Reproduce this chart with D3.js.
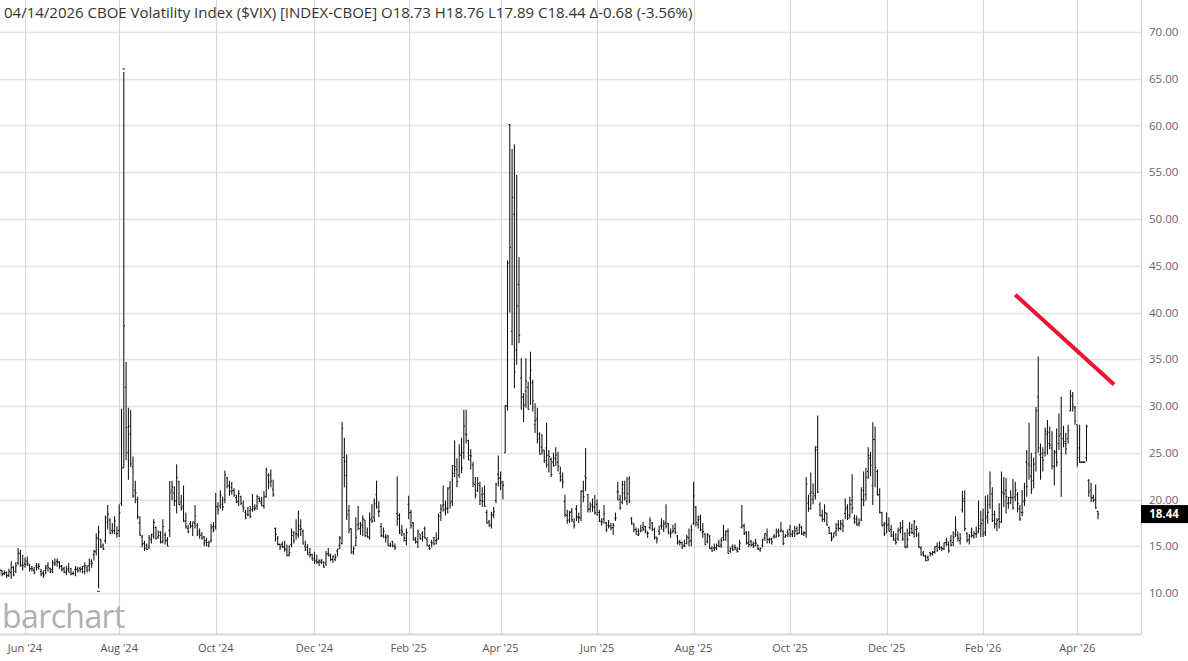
<!DOCTYPE html>
<html><head><meta charset="utf-8">
<script src="https://cdn.jsdelivr.net/npm/d3@7"></script>
<style>body{margin:0;background:#fff;overflow:hidden}svg{display:block}</style>
</head><body>
<svg id="chart" width="1188" height="661"></svg>
<script>
// ---------------- DATA ----------------
const title = "04/14/2026 CBOE Volatility Index ($VIX) [INDEX-CBOE] O18.73 H18.76 L17.89 C18.44 \u0394-0.68 (-3.56%)";
const firstDay = "2024-05-16";
const lastDay = "2026-04-14";
const holidays = ["2024-05-27","2024-06-19","2024-07-04","2024-09-02","2024-11-28","2024-12-25",
  "2025-01-01","2025-01-09","2025-01-20","2025-02-17","2025-04-18","2025-05-26","2025-06-19","2025-07-04",
  "2025-09-01","2025-11-27","2025-12-25","2026-01-01","2026-01-19","2026-02-16"];
const monthTicks = ["2024-06-03","2024-08-01","2024-10-01","2024-12-02","2025-02-03","2025-04-01",
  "2025-06-02","2025-08-01","2025-10-01","2025-12-01","2026-02-02","2026-04-01"];
const monthLabels = ["Jun '24","Aug '24","Oct '24","Dec '24","Feb '25","Apr '25","Jun '25","Aug '25","Oct '25","Dec '25","Feb '26","Apr '26"];
const priceTicks = [10,15,20,25,30,35,40,45,50,55,60,65,70];
const lastPrice = 18.44;
const trendDates = ["2026-02-23","2026-04-23"];
const trendValues = [41.9, 32.3];

const opens = [
12.4,12.4,12.1,12.2,11.9,12.2,12.7,12.3,13.2,14.2,13.0,
13.1,13.4,13.0,12.6,12.4,12.9,12.9,12.3,12.1,12.4,12.9,12.6,12.5,13.1,13.4,13.3,12.9,12.6,12.2,
12.6,12.6,12.1,12.5,12.6,12.6,12.6,12.3,12.7,12.9,13.4,14.1,14.4,15.8,15.7,15.1,15.6,17.6,17.8,16.7,16.7,16.3,
16.7,19.6,23.4,32.0,25.0,27.0,23.5,21.0,20.0,17.5,16.0,15.3,15.1,14.9,15.7,16.1,17.0,16.0,16.5,15.5,16.2,15.6,
16.7,21.0,20.7,19.8,21.9,19.7,19.3,17.7,16.9,17.4,17.2,17.5,17.2,16.6,16.3,16.0,15.6,15.1,15.6,17.1,
17.1,19.2,19.3,19.5,20.0,22.3,21.5,21.3,21.0,20.2,19.8,20.3,19.3,18.6,18.4,18.8,18.9,19.0,19.3,20.1,19.6,19.3,20.3,
22.6,22.6,21.1,16.9,15.8,15.2,15.2,14.9,14.6,14.1,15.2,16.5,16.3,16.2,16.8,16.6,15.0,14.9,14.3,14.1,
13.7,13.5,13.3,13.3,13.3,13.2,14.2,14.0,13.6,13.6,14.5,15.1,15.3,24.5,22.6,18.8,16.9,14.4,15.1,17.3,16.9,
17.2,17.8,16.5,15.9,18.0,18.1,20.5,18.7,17.1,16.1,16.0,16.1,15.1,15.5,15.0,18.5,18.3,16.7,16.3,15.6,
19.5,18.6,17.5,15.7,15.4,16.3,16.4,16.9,15.7,15.0,15.4,15.9,15.6,15.8,18.6,19.3,18.9,19.0,21.3,
19.8,23.6,23.2,22.6,24.7,25.0,27.0,26.3,24.7,23.7,21.6,21.0,21.5,20.5,20.6,18.6,17.6,17.3,18.4,19.9,22.7,
22.3,21.9,25.0,30.0,60.1,38.0,50.5,36.0,43.0,33.0,31.0,31.6,32.0,33.0,32.5,28.0,28.6,27.0,25.6,25.3,25.5,
23.7,24.3,24.0,24.4,24.0,22.8,22.1,19.8,18.3,17.8,18.7,17.6,19.0,18.1,18.0,20.9,22.5,20.5,19.0,19.5,19.2,
19.5,18.6,17.6,17.9,17.5,17.2,17.2,17.0,18.0,20.8,20.0,19.7,20.7,19.8,22.2,18.0,17.3,16.8,16.2,16.6,
17.0,17.1,16.4,17.0,17.5,16.8,16.0,16.6,17.2,16.8,17.5,17.4,16.3,16.6,16.9,16.1,15.5,15.4,15.1,15.3,15.9,15.6,
17.4,19.2,17.3,18.1,16.5,16.3,15.5,16.1,14.8,14.8,14.8,15.4,15.1,15.9,16.2,16.6,14.5,15.0,14.9,14.6,14.7,
17.0,17.2,16.5,15.4,15.5,15.2,15.3,15.1,14.6,15.1,15.9,16.2,15.7,15.8,16.0,16.0,16.5,16.6,16.6,16.0,16.5,
16.8,16.3,16.4,16.9,16.4,17.0,16.4,16.4,19.6,20.6,20.0,20.4,25.6,19.5,18.3,17.9,18.5,17.0,16.4,16.0,16.6,17.3,16.9,
17.3,18.5,19.2,18.3,19.9,18.0,17.9,17.4,17.8,21.0,20.5,23.0,24.4,21.5,26.4,23.0,20.5,18.6,17.3,
17.4,17.3,16.8,16.2,15.6,15.8,16.8,17.0,16.3,15.0,16.4,16.9,16.4,16.8,16.2,14.8,14.3,13.9,13.8,14.3,14.2,14.4,
15.0,14.9,14.8,14.7,15.4,15.2,15.6,15.4,16.3,16.2,15.6,18.9,19.8,16.4,15.7,16.5,16.1,16.3,16.6,17.2,
17.8,16.5,18.2,19.5,20.6,18.4,17.4,17.9,17.6,20.7,21.0,19.6,20.2,20.2,20.3,20.5,19.0,18.6,19.8,
24.0,23.8,22.5,22.0,25.0,31.0,24.8,24.5,25.0,27.0,26.0,25.5,23.5,25.0,26.0,27.0,26.5,26.0,26.5,29.5,31.0,29.8,
28.0,25.5,24.0,24.0,24.5,22.0,21.0,20.2,20.0,18.73];

const highs = [
12.6,12.5,12.4,12.3,12.6,13.4,12.9,13.3,14.8,14.6,14.1,
13.8,13.9,13.1,12.9,12.8,13.2,13.2,12.6,12.4,13.0,13.3,12.7,13.5,13.7,13.7,13.4,13.0,12.8,12.9,
13.2,12.7,12.3,12.9,12.8,12.8,12.9,13.3,13.0,13.7,13.6,14.6,16.4,17.2,15.8,15.3,18.3,19.4,18.0,17.5,18.2,17.1,
19.5,29.7,65.73,34.7,29.8,29.6,24.6,22.0,20.3,18.2,16.2,15.6,15.3,16.2,16.3,17.9,17.1,16.7,16.6,17.9,16.5,16.0,
21.99,22.0,21.4,23.76,22.0,20.5,21.5,18.6,17.3,17.7,17.6,19.4,17.5,16.9,16.5,16.1,15.9,15.6,17.4,17.6,
20.7,19.7,21.0,20.3,23.1,22.4,22.0,21.9,21.2,20.5,21.0,20.4,19.9,18.9,19.2,19.3,20.6,19.5,20.5,20.3,20.3,20.9,23.4,
22.8,23.2,22.1,17.0,16.1,15.3,15.5,15.6,15.2,15.1,16.9,16.6,17.9,18.8,17.9,16.8,15.6,15.2,14.8,14.2,
14.4,14.1,13.6,13.6,13.4,14.5,14.8,14.2,14.0,14.2,14.7,16.1,28.32,26.6,24.8,19.4,16.9,15.0,18.1,19.3,17.6,
18.3,17.8,17.0,18.6,19.5,20.1,22.0,19.8,17.5,17.0,16.3,16.2,15.4,15.6,15.3,22.5,18.5,17.3,16.4,16.9,
20.4,18.9,17.6,16.0,16.8,16.3,16.6,17.1,16.0,15.2,15.7,16.0,16.5,18.5,19.5,21.5,19.9,21.3,22.0,
23.7,26.3,24.4,25.9,26.6,29.6,29.6,26.4,25.4,24.0,22.4,22.4,21.9,21.3,21.5,18.9,17.8,18.7,19.2,21.8,24.7,
23.0,22.0,30.1,45.6,60.13,57.5,58.0,54.7,45.9,35.1,31.4,35.1,32.6,35.8,32.8,30.3,29.8,27.2,27.0,25.3,28.2,
25.3,24.5,25.0,25.6,25.1,23.5,22.9,20.5,18.9,18.8,19.1,18.0,19.4,18.6,21.0,22.0,25.5,20.6,19.7,20.1,20.5,
20.0,18.9,18.0,19.4,17.6,17.8,17.5,17.5,18.6,21.9,20.5,22.0,22.0,22.4,22.5,18.1,17.5,17.0,16.9,17.3,
17.6,17.2,16.6,18.1,17.6,17.0,16.0,17.2,18.0,17.8,19.5,17.5,16.9,17.3,17.5,16.2,15.7,15.5,15.7,16.2,16.9,17.3,
21.9,19.3,18.3,18.4,17.5,16.4,16.4,16.2,15.0,15.3,15.3,15.7,15.9,17.3,16.7,16.9,14.9,15.2,15.2,14.9,15.7,
19.4,17.4,16.6,16.6,15.7,15.5,15.8,15.2,14.9,15.8,16.4,16.9,15.9,15.9,16.3,16.9,16.9,17.6,16.7,16.3,16.8,
17.3,16.7,17.2,17.1,17.4,17.2,16.6,22.4,20.5,22.9,21.7,25.7,28.99,19.7,18.9,19.5,18.6,17.1,16.5,16.5,17.5,17.8,17.8,
17.9,20.1,19.5,20.3,22.7,18.4,18.3,18.0,21.3,23.0,23.4,25.6,25.1,28.27,27.8,23.2,21.2,18.7,17.6,
18.6,18.1,17.3,16.6,16.4,17.0,17.6,17.8,16.5,16.9,17.6,17.4,17.8,17.2,16.5,15.0,14.5,14.1,14.0,14.4,14.5,15.0,
15.4,15.5,15.0,15.4,15.9,15.5,16.2,16.6,18.2,16.6,16.4,20.9,21.0,16.5,16.3,17.0,16.6,17.1,19.9,18.8,
19.0,20.4,20.5,23.0,21.3,18.8,18.0,19.6,23.0,22.4,22.3,20.3,21.0,22.2,21.9,20.8,19.4,21.0,21.8,
25.3,28.2,25.0,24.5,29.9,35.3,26.0,25.6,27.7,28.5,27.8,27.3,25.3,27.6,29.2,31.0,27.9,27.1,28.0,31.7,31.5,30.0,
28.0,28.0,24.1,24.1,28.0,22.2,21.8,20.5,21.6,18.76];

const lows = [
11.9,11.8,11.9,11.6,11.7,11.5,11.8,12.1,13.0,12.8,12.4,
12.7,12.9,12.3,12.3,12.0,12.4,12.5,11.8,11.6,12.0,12.3,12.1,12.1,12.9,12.8,12.6,12.3,12.1,11.9,
12.2,11.9,11.9,11.8,12.2,12.2,12.1,12.0,12.2,12.3,12.7,13.5,14.0,10.5,14.8,14.6,15.3,16.8,16.3,16.3,16.3,15.9,
16.0,19.3,23.4,24.2,22.1,23.5,20.2,19.6,17.9,16.1,14.9,14.5,14.6,14.7,15.3,15.8,15.7,15.8,15.3,15.3,15.2,15.0,
16.0,19.9,19.3,18.5,19.4,18.8,17.6,16.9,16.4,16.9,16.1,16.9,16.1,15.8,15.7,15.0,15.0,14.9,15.4,16.5,
16.8,18.4,19.0,18.8,19.6,21.2,20.4,20.5,20.3,19.6,19.3,19.4,18.7,17.9,18.2,18.0,18.7,18.8,18.9,19.7,19.3,19.0,20.2,
21.1,21.3,20.3,15.5,15.1,14.6,14.8,14.4,13.9,13.9,14.9,15.3,15.7,15.9,16.1,15.2,14.5,14.1,13.8,13.5,
13.1,13.1,12.9,13.1,12.7,12.9,13.9,13.4,13.2,13.4,13.9,14.7,15.2,21.3,17.8,16.4,14.2,14.1,15.0,16.7,16.2,
16.1,16.0,15.9,15.7,17.5,17.6,19.0,18.1,16.0,15.9,15.4,15.0,14.9,14.9,14.6,17.2,16.3,16.1,15.5,15.1,
17.9,16.9,15.6,15.3,14.8,15.7,15.5,15.8,15.0,14.6,14.9,15.1,15.2,15.7,17.7,18.7,18.3,18.5,19.0,
19.3,22.4,21.3,22.3,22.8,24.3,26.0,24.2,23.2,21.3,20.1,20.8,19.4,19.2,19.2,17.4,17.1,16.9,18.0,19.6,21.4,
21.0,20.0,25.0,29.5,40.0,36.5,31.9,34.4,36.7,29.6,28.3,29.8,29.6,30.1,29.4,27.1,26.0,24.8,24.8,23.9,23.4,
22.9,22.4,23.5,23.6,23.0,21.9,21.2,18.1,17.4,17.5,17.6,16.9,17.7,17.5,17.7,19.7,20.9,18.6,18.6,18.7,18.4,
18.3,17.6,17.2,17.4,16.5,16.9,16.7,16.2,17.7,19.9,18.9,19.5,19.9,19.4,19.6,17.3,16.5,16.2,16.1,16.5,
16.6,16.4,15.9,16.8,16.6,15.7,15.3,16.2,16.8,16.5,16.9,16.3,15.9,16.4,16.3,15.2,15.1,14.7,14.9,15.2,15.0,15.0,
17.3,17.1,16.9,16.6,15.9,15.1,15.3,14.7,14.4,14.5,14.6,14.9,14.8,15.6,15.6,14.2,14.3,14.5,14.6,14.3,14.6,
16.9,16.2,15.2,14.9,15.0,14.8,15.0,14.6,14.4,14.9,15.6,15.3,15.3,15.2,15.8,15.9,16.0,16.5,15.1,15.9,16.0,
16.0,16.0,16.0,16.2,16.3,16.2,16.1,15.9,18.7,18.9,19.5,20.0,20.7,18.2,17.6,17.6,17.2,16.3,15.5,15.9,16.1,16.6,16.7,
16.5,17.9,17.8,18.0,18.5,17.4,17.2,17.1,17.7,19.3,19.9,22.2,22.5,19.4,21.3,20.4,18.5,17.1,16.1,
16.4,16.6,16.0,15.6,15.2,15.6,16.4,15.6,14.8,14.8,16.1,16.3,15.9,16.0,14.8,14.0,13.9,13.4,13.4,13.9,14.0,14.2,
14.4,14.6,14.5,14.6,15.0,14.3,15.0,15.0,16.0,15.5,15.2,18.6,16.6,15.4,15.2,15.9,15.8,15.9,16.4,16.0,
16.0,16.1,17.4,19.0,17.6,16.9,16.6,16.9,17.5,19.2,18.5,19.0,19.5,18.9,19.8,18.6,17.7,18.2,19.3,
20.3,22.1,20.6,21.2,23.0,25.0,22.1,23.0,24.6,24.8,25.4,23.2,21.5,23.5,25.3,20.3,25.6,24.8,26.0,29.4,29.4,28.0,
23.5,23.9,23.9,23.9,24.1,20.3,19.7,19.7,19.0,17.89];

const closes = [
12.42,11.99,12.15,11.86,12.29,12.77,11.93,12.92,14.28,12.91,12.92,
13.11,13.16,12.63,12.58,12.22,12.74,12.85,12.04,11.94,12.66,12.75,12.30,13.28,13.20,13.33,12.84,12.55,12.24,12.44,
12.22,12.03,12.09,12.48,12.37,12.51,12.85,12.91,12.46,13.12,13.19,14.48,15.93,16.52,14.91,14.72,18.04,18.46,16.39,16.60,17.69,16.36,
18.59,23.39,38.57,27.71,27.85,23.79,20.37,20.71,18.12,16.19,15.23,14.80,14.65,15.88,16.27,17.55,15.86,16.15,15.43,17.11,15.65,15.00,
20.72,21.32,19.90,22.38,19.45,19.08,17.69,17.07,16.56,17.14,17.61,18.23,16.33,16.15,15.89,15.39,15.41,15.37,16.96,16.73,
19.26,18.90,20.49,19.21,22.64,21.42,20.86,20.93,20.46,19.70,20.64,19.58,19.11,18.03,18.37,18.20,19.24,19.08,20.33,19.80,19.34,20.35,23.16,
21.88,21.98,20.49,16.27,15.20,14.94,14.97,14.71,14.02,14.31,16.14,15.58,16.35,17.16,16.87,15.24,14.60,14.10,14.10,13.51,
13.34,13.30,13.45,13.54,12.77,14.19,14.18,13.58,13.92,13.81,14.69,15.87,27.62,24.09,18.36,16.78,14.27,14.73,15.95,17.40,17.35,
17.93,16.13,16.04,17.82,17.70,19.54,19.19,18.71,16.12,16.60,15.97,15.06,15.10,15.02,14.85,17.90,16.41,16.56,15.84,16.43,
18.62,17.21,15.77,15.50,16.54,15.81,16.02,15.89,15.10,14.77,15.35,15.27,15.66,18.21,18.98,19.43,19.10,21.13,19.63,
22.78,23.51,21.93,24.87,23.37,27.86,26.92,24.23,24.66,21.77,20.51,21.70,19.90,19.80,19.28,17.48,17.15,18.33,18.69,21.65,22.28,
21.77,21.51,30.02,45.31,46.98,52.33,33.62,40.72,37.56,30.89,30.12,32.64,29.65,33.82,30.57,28.45,26.47,24.84,25.15,24.17,24.70,
24.60,22.68,23.64,24.76,23.55,22.48,21.90,18.39,17.72,18.62,17.83,17.24,18.14,18.09,20.87,20.28,22.29,18.96,19.31,19.18,18.57,
18.36,17.69,17.61,18.48,16.77,17.16,16.95,17.26,18.02,20.82,19.11,21.60,20.14,20.62,19.83,17.48,16.76,16.59,16.32,16.73,
16.83,16.64,16.38,17.79,16.81,15.94,15.78,16.40,17.20,17.38,17.16,16.52,16.41,16.65,16.50,15.37,15.39,14.93,15.03,15.98,15.48,16.72,
20.38,17.52,17.85,16.77,16.57,15.15,16.25,14.73,14.49,14.83,15.09,15.00,15.57,15.69,16.60,14.22,14.79,14.62,14.85,14.43,15.36,
17.17,16.35,15.30,15.18,15.11,15.04,15.35,14.71,14.76,15.69,16.36,15.72,15.70,15.45,16.10,16.64,16.18,16.74,15.29,16.12,16.28,
16.29,16.63,16.65,16.37,17.24,16.30,16.43,21.66,19.03,20.81,20.64,25.31,20.78,18.23,17.87,18.60,17.30,16.37,15.79,16.42,16.92,16.91,17.44,
17.17,19.00,18.01,19.50,19.08,17.60,17.28,17.51,20.00,19.83,22.38,24.69,23.66,26.42,23.43,20.52,18.56,17.19,16.35,
17.24,16.59,16.08,15.78,15.41,16.66,16.93,15.77,14.85,15.74,16.50,16.48,17.62,16.87,14.91,14.08,14.00,13.47,13.60,14.20,14.33,14.95,
14.51,14.90,14.75,15.38,15.45,14.49,15.12,15.98,16.75,15.84,15.86,20.09,16.90,15.64,16.09,16.15,16.35,16.35,16.88,17.44,
16.34,18.00,18.64,21.77,17.76,17.36,17.79,17.65,20.82,20.60,20.29,19.62,20.23,19.09,21.01,19.55,17.93,18.63,19.86,
21.4,23.6,21.1,23.8,29.5,25.5,24.9,24.2,27.3,27.2,25.8,23.6,25.1,24.0,26.8,24.9,26.2,25.4,27.4,31.1,30.0,28.4,
24.5,24.0,24.0,24.0,27.8,20.8,20.2,19.9,19.12,18.44];

// ---------------- CALENDAR ----------------
function tradingDays(from, to) {
  const out = [], hol = new Set(holidays);
  const fmt = d3.utcFormat("%Y-%m-%d");
  for (let d = new Date(from + "T00:00:00Z"); fmt(d) <= to; d = d3.utcDay.offset(d, 1)) {
    const wd = d.getUTCDay(), s = fmt(d);
    if (wd !== 0 && wd !== 6 && !hol.has(s)) out.push(s);
  }
  return out;
}
const calendar = tradingDays(firstDay, "2026-04-30");
const dates = calendar.slice(0, calendar.indexOf(lastDay) + 1);
if ([opens, highs, lows, closes].some(a => a.length !== dates.length))
  throw new Error("length mismatch " + [dates.length, opens.length, highs.length, lows.length, closes.length].join(","));
const idx = s => calendar.indexOf(s);

// ---------------- LAYOUT ----------------
const W = 1188, H = 661;
const plotRight = 1141, plotBottom = 634;
const svg = d3.select("#chart");

const x = d3.scaleLinear()
  .domain([idx("2024-06-03"), idx("2026-04-01")])
  .range([25, 1077.3]);
const y = d3.scaleLinear().domain([10, 70]).range([593, 32]);

// grid
const grid = svg.append("g");
grid.selectAll("line.h").data(priceTicks).join("line")
  .attr("x1", 0).attr("x2", plotRight)
  .attr("y1", d => Math.round(y(d)) + 0.5).attr("y2", d => Math.round(y(d)) + 0.5)
  .attr("stroke", "#e3e3e3").attr("stroke-width", 1.4);
grid.selectAll("line.v").data(monthTicks).join("line")
  .attr("x1", d => Math.round(x(idx(d))) + 0.5).attr("x2", d => Math.round(x(idx(d))) + 0.5)
  .attr("y1", 0).attr("y2", plotBottom)
  .attr("stroke", "#d6d6d6").attr("stroke-width", 1);

// frame
svg.append("line").attr("x1", 0).attr("x2", plotRight).attr("y1", plotBottom + 0.5).attr("y2", plotBottom + 0.5)
  .attr("stroke", "#d9d9d9").attr("stroke-width", 2);
svg.append("line").attr("x1", plotRight + 0.5).attr("x2", plotRight + 0.5).attr("y1", 0).attr("y2", plotBottom + 1)
  .attr("stroke", "#cfcfcf").attr("stroke-width", 1);

// logo
svg.append("text").attr("x", 2).attr("y", 628).text("barchart")
  .attr("font-family", "Open Sans, sans-serif").attr("font-size", 32).attr("fill", "#b0b0b0")
  .attr("letter-spacing", -0.6);

// bars
svg.append("clipPath").attr("id", "plotclip").append("rect")
  .attr("x", 0).attr("y", 0).attr("width", plotRight).attr("height", plotBottom);
const bars = svg.append("g").attr("clip-path", "url(#plotclip)");
const data = dates.map((d, i) => ({ d, i: idx(d), o: opens[i], h: highs[i], l: lows[i], c: closes[i] }));
bars.selectAll("path").data(data).join("path")
  .attr("d", b => {
    const X = x(b.i);
    return `M${X},${y(b.h)}V${y(b.l)}M${X - 1.2},${y(b.o)}H${X}M${X},${y(b.c)}H${X + 1.2}`;
  })
  .attr("fill", "none").attr("stroke", "#111").attr("stroke-width", 1.05);

// extreme markers
const hiB = data.reduce((a, b) => b.h > a.h ? b : a);
const loB = data.reduce((a, b) => b.l < a.l ? b : a);
bars.append("line").attr("x1", x(hiB.i) - 1.5).attr("x2", x(hiB.i) + 1.5)
  .attr("y1", y(hiB.h) - 3).attr("y2", y(hiB.h) - 3).attr("stroke", "#333");
bars.append("line").attr("x1", x(loB.i) - 1.5).attr("x2", x(loB.i) + 1.5)
  .attr("y1", y(loB.l) + 3).attr("y2", y(loB.l) + 3).attr("stroke", "#333");

// trend annotation
svg.append("line")
  .attr("x1", x(idx(trendDates[0]))).attr("y1", y(trendValues[0]))
  .attr("x2", x(idx(trendDates[1]))).attr("y2", y(trendValues[1]))
  .attr("stroke", "#ec1330").attr("stroke-width", 4);

// price axis labels
svg.selectAll("text.py").data(priceTicks).join("text")
  .attr("x", 1149).attr("y", d => y(d)).attr("dy", "0.35em")
  .text(d => d.toFixed(2))
  .attr("font-family", "Open Sans, sans-serif").attr("font-size", 11.5).attr("fill", "#666");

// last price box
svg.append("rect").attr("x", plotRight).attr("y", y(lastPrice) - 9).attr("width", W - plotRight).attr("height", 18).attr("fill", "#000");
svg.append("text").attr("x", 1164).attr("y", y(lastPrice)).attr("dy", "0.36em").attr("text-anchor", "middle")
  .text(lastPrice.toFixed(2)).attr("font-family", "Open Sans, sans-serif").attr("font-weight", 700)
  .attr("font-size", 11.5).attr("fill", "#fff");

// time axis labels
svg.selectAll("text.tx").data(monthTicks).join("text")
  .attr("x", d => x(idx(d))).attr("y", 648).attr("dy", "0.35em").attr("text-anchor", "middle")
  .text((d, i) => monthLabels[i])
  .attr("font-family", "Open Sans, sans-serif").attr("font-size", 11).attr("fill", "#555");

// title
svg.append("text").attr("x", 4).attr("y", 18).text(title)
  .attr("font-family", "Open Sans, sans-serif").attr("font-size", 15).attr("fill", "#333");
</script>
</body></html>
